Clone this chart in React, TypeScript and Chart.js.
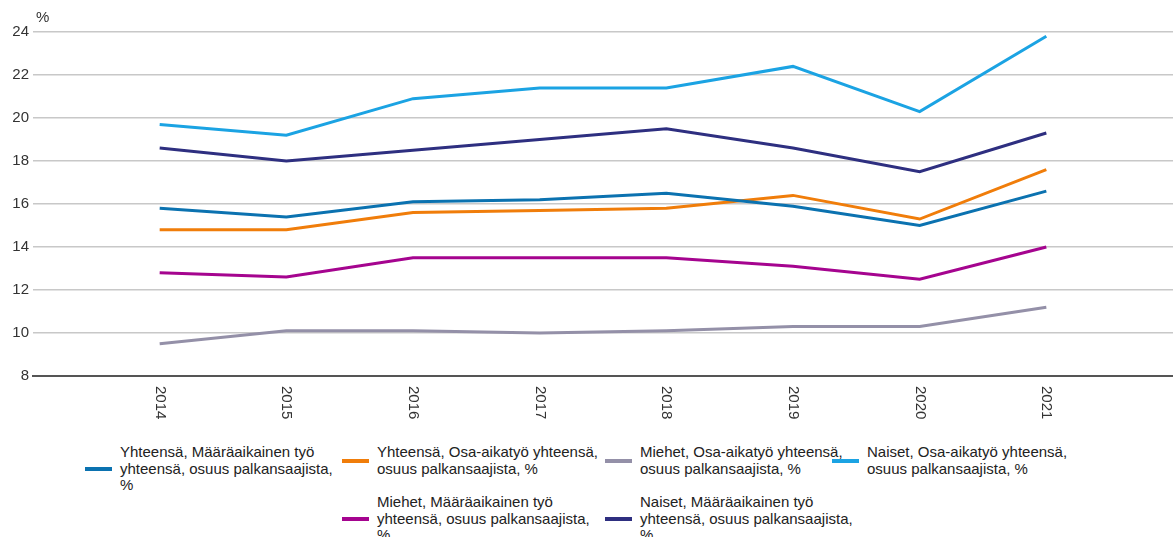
import React, { useEffect, useRef } from "react";
import { Chart, registerables } from "chart.js";

Chart.register(...registerables);

const years = ["2014", "2015", "2016", "2017", "2018", "2019", "2020", "2021"];
const yhteensaMaaraaikainen = [15.8, 15.4, 16.1, 16.2, 16.5, 15.9, 15.0, 16.6];
const yhteensaOsaaika = [14.8, 14.8, 15.6, 15.7, 15.8, 16.4, 15.3, 17.6];
const miehetOsaaika = [9.5, 10.1, 10.1, 10.0, 10.1, 10.3, 10.3, 11.2];
const naisetOsaaika = [19.7, 19.2, 20.9, 21.4, 21.4, 22.4, 20.3, 23.8];
const miehetMaaraaikainen = [12.8, 12.6, 13.5, 13.5, 13.5, 13.1, 12.5, 14.0];
const naisetMaaraaikainen = [18.6, 18.0, 18.5, 19.0, 19.5, 18.6, 17.5, 19.3];
const yMin = 8;
const yMax = 24;
const yStep = 2;
const yUnit = "%";

const seriesLabels = [
  "Yhteensä, Määräaikainen työ\nyhteensä, osuus palkansaajista,\n%",
  "Yhteensä, Osa-aikatyö yhteensä,\nosuus palkansaajista, %",
  "Miehet, Osa-aikatyö yhteensä,\nosuus palkansaajista, %",
  "Naiset, Osa-aikatyö yhteensä,\nosuus palkansaajista, %",
  "Miehet, Määräaikainen työ\nyhteensä, osuus palkansaajista,\n%",
  "Naiset, Määräaikainen työ\nyhteensä, osuus palkansaajista,\n%",
];
const seriesValues = [
  yhteensaMaaraaikainen,
  yhteensaOsaaika,
  miehetOsaaika,
  naisetOsaaika,
  miehetMaaraaikainen,
  naisetMaaraaikainen,
];
const seriesColors = ["#0B72B0", "#F07D0A", "#9490A8", "#1BA3E3", "#A5048F", "#2E2F80"];
// legend placement (left px, top px)
const legendPos = [
  [85, 444],
  [342, 444],
  [605, 444],
  [832, 444],
  [342, 494],
  [605, 494],
];

const FONT = "'Liberation Sans', Arial, sans-serif";

export default function App() {
  const ref = useRef<HTMLCanvasElement | null>(null);

  useEffect(() => {
    if (!ref.current) return;
    const labels = ["", ...years, ""];
    const xLabelPlugin = {
      id: "xLabels",
      afterDraw(chart: any) {
        const ctx = chart.ctx;
        const xs = chart.scales.x;
        const bottom = chart.chartArea.bottom;
        ctx.save();
        ctx.font = `15px ${FONT}`;
        ctx.fillStyle = "#333";
        ctx.textAlign = "left";
        ctx.textBaseline = "middle";
        years.forEach((y, i) => {
          const x = xs.getPixelForValue(i + 1);
          ctx.save();
          ctx.translate(x, bottom + 10);
          ctx.rotate(Math.PI / 2);
          ctx.fillText(y, 0, 0);
          ctx.restore();
        });
        ctx.font = `15px ${FONT}`;
        ctx.textBaseline = "middle";
        ctx.fillText(yUnit, chart.chartArea.left + 3, 18);
        ctx.restore();
      },
    };
    const chart = new Chart(ref.current, {
      type: "line",
      data: {
        labels,
        datasets: seriesLabels.map((l, i) => ({
          label: l.replace(/\n/g, " "),
          data: [null, ...seriesValues[i], null],
          borderColor: seriesColors[i],
          backgroundColor: seriesColors[i],
          borderWidth: 3,
          pointRadius: 0,
          tension: 0,
          fill: false,
        })),
      },
      options: {
        animation: false,
        responsive: false,
        layout: { padding: { top: 32, bottom: 54, left: 0, right: 0 } },
        plugins: {
          legend: { display: false },
          tooltip: { enabled: false },
        },
        scales: {
          x: {
            type: "category",
            offset: false,
            grid: { display: false, drawTicks: false },
            border: { display: true, color: "#555", width: 2 },
            ticks: { display: false },
          },
          y: {
            min: yMin,
            max: yMax,
            ticks: {
              stepSize: yStep,
              padding: 4,
              color: "#333",
              font: { family: FONT, size: 15 },
            },
            grid: { color: "#c8c8c8", lineWidth: 1.5, drawTicks: false },
            border: { display: false },
            afterFit: (s: any) => {
              s.width = 33;
            },
          } as any,
        },
      },
      plugins: [xLabelPlugin],
    });
    return () => chart.destroy();
  }, []);

  return (
    <div
      style={{
        position: "fixed",
        left: 0,
        top: 0,
        width: 1173,
        height: 537,
        background: "#fff",
        overflow: "hidden",
        fontFamily: FONT,
      }}
    >
      <canvas ref={ref} width={1173} height={430} style={{ display: "block" }} />
      {seriesLabels.map((l, i) => (
        <div
          key={i}
          style={{
            position: "absolute",
            left: legendPos[i][0],
            top: legendPos[i][1],
            display: "flex",
            alignItems: "center",
          }}
        >
          <div
            style={{
              width: 27,
              height: 4,
              background: seriesColors[i],
              marginRight: 8,
              flexShrink: 0,
            }}
          />
          <div
            style={{
              whiteSpace: "pre",
              fontSize: 15,
              lineHeight: "16.5px",
              color: "#222",
            }}
          >
            {l}
          </div>
        </div>
      ))}
    </div>
  );
}
